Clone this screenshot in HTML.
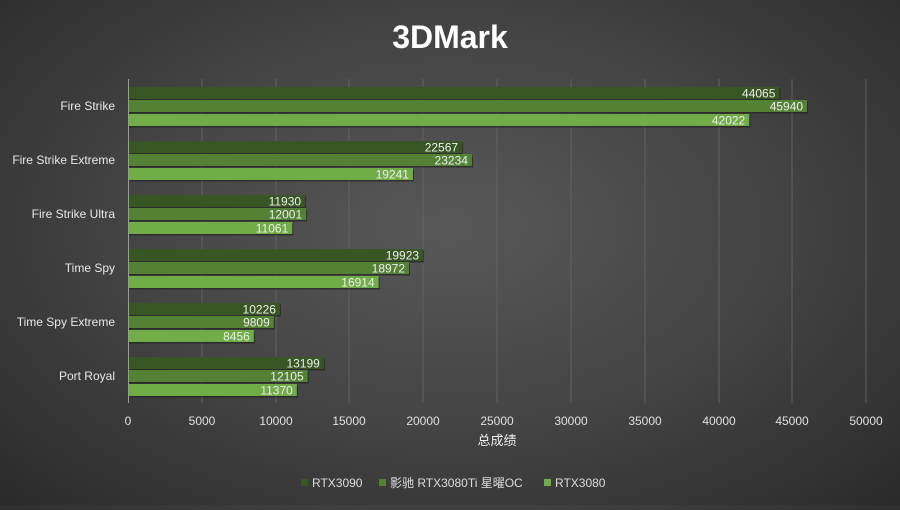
<!DOCTYPE html><html><head><meta charset="utf-8"><style>body{margin:0;width:900px;height:505px;overflow:hidden;background:radial-gradient(ellipse at 50% 45%,#585858 0%,#444 50%,#2a2a2a 100%);font-family:"Liberation Sans","Noto Sans CJK SC",sans-serif}</style></head><body>
<svg width="900" height="505" xmlns="http://www.w3.org/2000/svg" font-family="Liberation Sans, Noto Sans CJK SC, sans-serif">
<text x="450" y="48" fill="#fff" font-size="32" font-weight="bold" text-anchor="middle">3DMark</text>
<g stroke="#626262" stroke-width="1">
<line x1="202" y1="79" x2="202" y2="403"/><line x1="276" y1="79" x2="276" y2="403"/><line x1="349" y1="79" x2="349" y2="403"/><line x1="423" y1="79" x2="423" y2="403"/><line x1="497" y1="79" x2="497" y2="403"/><line x1="571" y1="79" x2="571" y2="403"/><line x1="645" y1="79" x2="645" y2="403"/><line x1="719" y1="79" x2="719" y2="403"/><line x1="792" y1="79" x2="792" y2="403"/><line x1="866" y1="79" x2="866" y2="403"/>
</g>
<line x1="128.5" y1="79" x2="128.5" y2="403" stroke="#9a9a9a"/>
<g fill="#e0e0e0" font-size="12" text-anchor="middle">
<text x="128" y="425">0</text><text x="202" y="425">5000</text><text x="276" y="425">10000</text><text x="349" y="425">15000</text><text x="423" y="425">20000</text><text x="497" y="425">25000</text><text x="571" y="425">30000</text><text x="645" y="425">35000</text><text x="719" y="425">40000</text><text x="792" y="425">45000</text><text x="866" y="425">50000</text>
</g>
<text x="497" y="445" fill="#eee" font-size="13" text-anchor="middle">总成绩</text>
<g id="bars"></g>
<g font-size="12" fill="#ddd">
<rect x="301" y="479" width="7" height="7" fill="#375623"/><text x="312" y="487">RTX3090</text>
<rect x="379" y="479" width="7" height="7" fill="#548235"/><text x="390" y="487">影驰 RTX3080Ti 星曜OC</text>
<rect x="544" y="479" width="7" height="7" fill="#70AD47"/><text x="555" y="487">RTX3080</text>
</g>
<g id="cats" fill="#e8e8e8" font-size="12" text-anchor="end"></g>
</svg>
<script>
var d=[["Fire Strike",44065,45940,42022],["Fire Strike Extreme",22567,23234,19241],["Fire Strike Ultra",11930,12001,11061],["Time Spy",19923,18972,16914],["Time Spy Extreme",10226,9809,8456],["Port Royal",13199,12105,11370]];
var col=["#375623","#548235","#70AD47"],off=[-19,-6,8],ns="http://www.w3.org/2000/svg",b=document.getElementById("bars"),c=document.getElementById("cats");
function el(t,a,p,tx){var e=document.createElementNS(ns,t);for(var k in a)e.setAttribute(k,a[k]);if(tx)e.textContent=tx;p.appendChild(e);}
d.forEach(function(r,i){var cy=106+54*i;el("text",{x:115,y:cy+4},c,r[0]);
for(var j=0;j<3;j++){var w=r[j+1]*0.01476,y=cy+off[j];
el("rect",{x:129,y:y+1.5,width:w+1,height:12,fill:"#1a1a1a",opacity:0.6},b);
el("rect",{x:129,y:y,width:w,height:12,fill:col[j]},b);
el("text",{x:129+w-4,y:y+10.5,fill:"#eee","font-size":12,"text-anchor":"end"},b,r[j+1]);}});
</script>
</body></html>
